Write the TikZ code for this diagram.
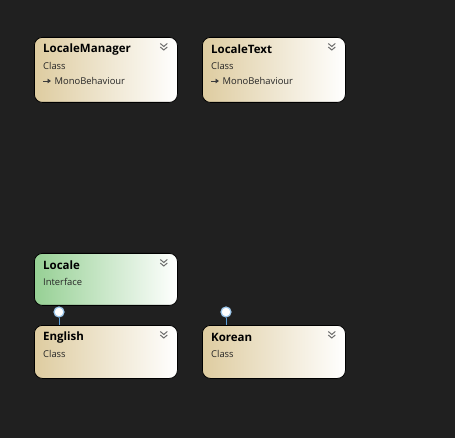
\documentclass[tikz,border=0pt]{standalone}
\usepackage{fontspec}
\setmainfont{Open Sans}
\usetikzlibrary{arrows.meta}
\definecolor{bg}{RGB}{32,32,32}
\definecolor{tanc}{RGB}{222,204,160}
\definecolor{greenc}{RGB}{150,208,148}
\definecolor{lollic}{RGB}{90,160,220}
\definecolor{chev}{RGB}{110,110,110}
\definecolor{icon}{RGB}{60,60,60}
\tikzset{
  box/.style={rectangle, rounded corners=8pt, draw=black, line width=0.8pt,
    right color=white, minimum width=143pt, inner sep=0pt, anchor=north west},
  classbox/.style={box, left color=tanc},
  ifacebox/.style={box, left color=greenc},
  title/.style={anchor=west, inner sep=0pt, font=\fontsize{11.5}{13}\selectfont\bfseries, text=black},
  sub/.style={anchor=west, inner sep=0pt, font=\fontsize{9.4}{11}\selectfont, text=black!85},
  chevline/.style={draw=chev, line width=1pt},
  lolli/.style={circle, draw=lollic!60!white, fill=white, line width=1.2pt, minimum size=10pt, inner sep=0pt},
  lolline/.style={draw=lollic, line width=1pt}
}
\newcommand{\chevron}[1]{%
  \draw[chevline] ([shift={(-3.5,-7.5)}]#1) -- ([shift={(0,-4.5)}]#1) -- ([shift={(3.5,-7.5)}]#1);
  \draw[chevline] ([shift={(-3.5,-4)}]#1) -- ([shift={(0,-1)}]#1) -- ([shift={(3.5,-4)}]#1);
}
\begin{document}
\begin{tikzpicture}[x=1pt,y=-1pt]
\fill[bg] (0,0) rectangle (455,438);
\useasboundingbox (0,0) rectangle (455,438);

% LocaleManager
\node[classbox, minimum height=65pt] (lm) at (34,37) {};
\node[title] (lmt) at ([shift={(9,12.5)}]lm.north west) {LocaleManager};
\node[sub] (lms) at ([shift={(9,28.5)}]lm.north west) {Class};
\coordinate (lmi) at ([shift={(9,44)}]lm.north west);
\draw[icon, line width=0.9pt, -{Triangle[length=3.5pt,width=4.5pt]}] (lmi) -- ++(8,0);
\node[sub] (lmb) at ([shift={(11.5,0)}]lmi) {MonoBehaviour};
\coordinate (lmc) at ([shift={(-14,14)}]lm.north east);
\chevron{lmc}

% LocaleText
\node[classbox, minimum height=65pt] (lt) at (202,37) {};
\node[title] (ltt) at ([shift={(9,12.5)}]lt.north west) {LocaleText};
\node[sub] (lts) at ([shift={(9,28.5)}]lt.north west) {Class};
\coordinate (lti) at ([shift={(9,44)}]lt.north west);
\draw[icon, line width=0.9pt, -{Triangle[length=3.5pt,width=4.5pt]}] (lti) -- ++(8,0);
\node[sub] (ltb) at ([shift={(11.5,0)}]lti) {MonoBehaviour};
\coordinate (ltc) at ([shift={(-14,14)}]lt.north east);
\chevron{ltc}

% Locale
\node[ifacebox, minimum height=52pt] (lc) at (34,253) {};
\node[title] (lct) at ([shift={(9,12.5)}]lc.north west) {Locale};
\node[sub] (lcs) at ([shift={(9,28.5)}]lc.north west) {Interface};
\coordinate (lcc) at ([shift={(-14,14)}]lc.north east);
\chevron{lcc}

% English
\node[classbox, minimum height=53pt] (en) at (34,325) {};
\node[title] (ent) at ([shift={(9,12.5)}]en.north west) {English};
\node[sub] (ens) at ([shift={(9,28.5)}]en.north west) {Class};
\coordinate (enc) at ([shift={(-14,14)}]en.north east);
\chevron{enc}

% Korean
\node[classbox, minimum height=53pt] (ko) at (202,325) {};
\node[title] (kot) at ([shift={(9,12.5)}]ko.north west) {Korean};
\node[sub] (kos) at ([shift={(9,28.5)}]ko.north west) {Class};
\coordinate (koc) at ([shift={(-14,14)}]ko.north east);
\chevron{koc}

% lollipops
\node[lolli] (enl) at (59,312) {};
\draw[lolline] (enl.south) -- (enl.south |- en.north);
\node[lolli] (kol) at (226,312) {};
\draw[lolline] (kol.south) -- (kol.south |- ko.north);
\end{tikzpicture}
\end{document}
